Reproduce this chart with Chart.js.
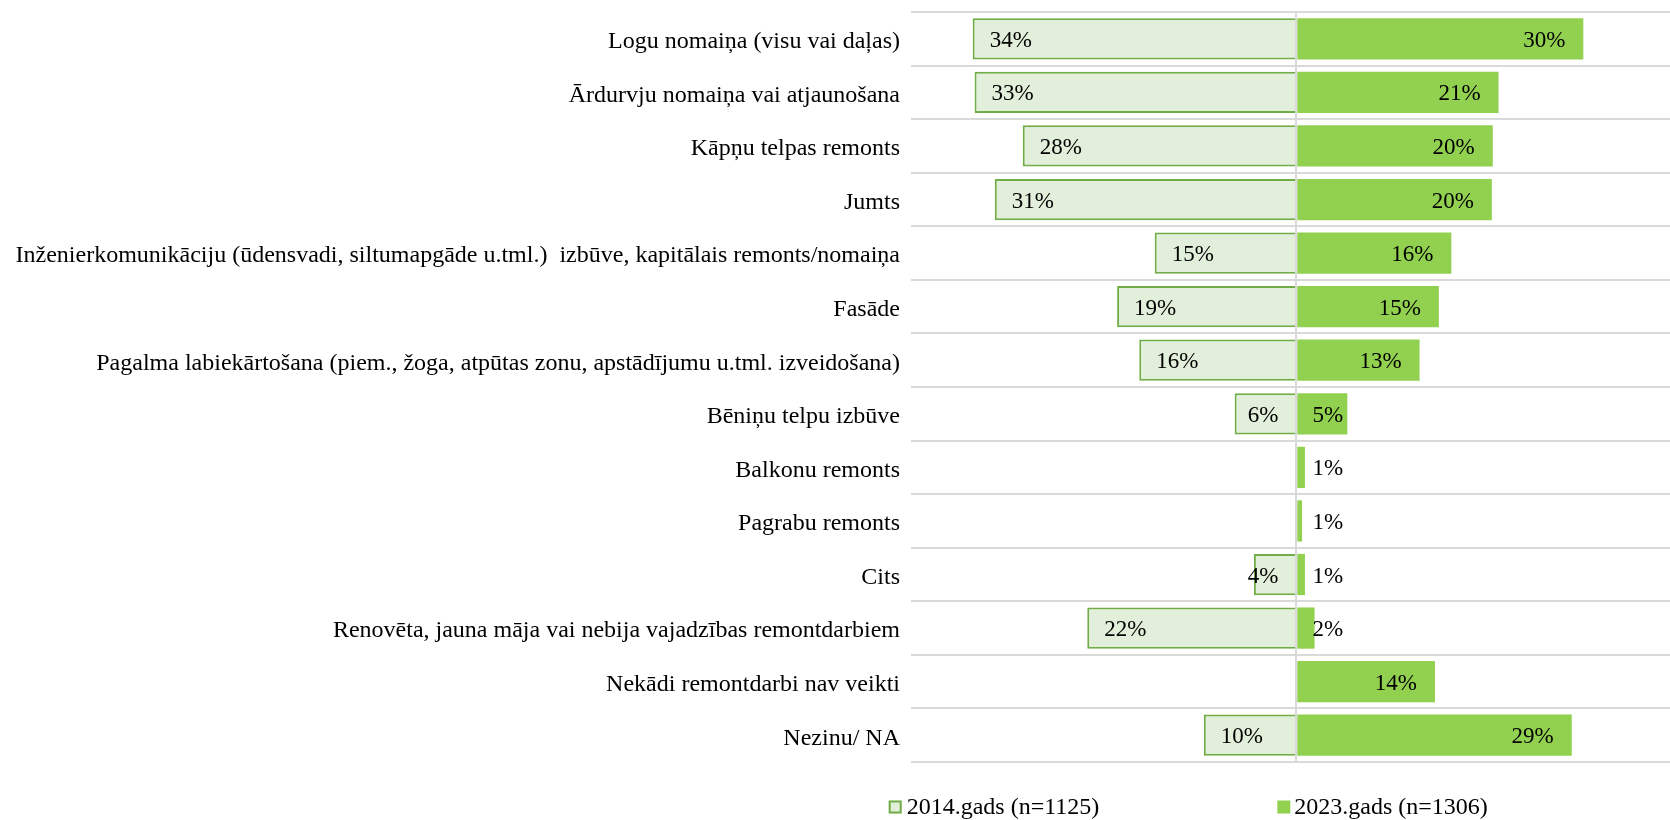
<!DOCTYPE html>
<html>
<head>
<meta charset="utf-8">
<script src="https://cdn.jsdelivr.net/npm/chart.js@4.4.1/dist/chart.umd.min.js"></script>
<style>
  html, body { margin: 0; padding: 0; background: #ffffff; }
  #wrap { width: 1670px; height: 820px; position: relative; }
</style>
</head>
<body>
<div id="wrap"><canvas id="c"></canvas></div>
<script>
const categories = [
  "Logu nomaiņa (visu vai daļas)",
  "Ārdurvju nomaiņa vai atjaunošana",
  "Kāpņu telpas remonts",
  "Jumts",
  "Inženierkomunikāciju (ūdensvadi, siltumapgāde u.tml.)  izbūve, kapitālais remonts/nomaiņa",
  "Fasāde",
  "Pagalma labiekārtošana (piem., žoga, atpūtas zonu, apstādījumu u.tml. izveidošana)",
  "Bēniņu telpu izbūve",
  "Balkonu remonts",
  "Pagrabu remonts",
  "Cits",
  "Renovēta, jauna māja vai nebija vajadzības remontdarbiem",
  "Nekādi remontdarbi nav veikti",
  "Nezinu/ NA"
];
const seriesNames = ["2014.gads (n=1125)", "2023.gads (n=1306)"];
const values2014 = [33.6, 33.4, 28.4, 31.3, 14.7, 18.6, 16.3, 6.4, null, null, 4.4, 21.7, null, 9.6];
const values2023 = [29.8, 21.0, 20.4, 20.3, 16.1, 14.8, 12.8, 5.3, 0.9, 0.6, 0.9, 1.9, 14.4, 28.6];

const FONT = '"Liberation Serif", "Times New Roman", serif';

const labelPlugin = {
  id: 'barLabels',
  afterDraw(chart) {
    const ctx = chart.ctx;
    ctx.save();
    ctx.font = '23px ' + FONT;
    ctx.fillStyle = '#000000';
    ctx.textBaseline = 'middle';
    chart.data.datasets.forEach((ds, di) => {
      const meta = chart.getDatasetMeta(di);
      meta.data.forEach((el, i) => {
        const raw = di === 0 ? values2014[i] : values2023[i];
        if (raw == null) return;
        const txt = Math.round(raw) + '%';
        if (di === 0) {
          ctx.textAlign = 'left';
          const x = Math.min(el.x + 17, el.base - 47.5);
          ctx.fillText(txt, x, el.y + 2);
        } else {
          ctx.textAlign = 'right';
          const x = Math.max(el.x - 18, el.base + 46);
          ctx.fillText(txt, x, el.y + 2);
        }
      });
    });
    ctx.restore();
  }
};

const legendPlugin = {
  id: 'customLegend',
  afterDraw(chart) {
    const ctx = chart.ctx;
    const items = [
      { box: 888.7, text: 906.7 },
      { box: 1277.3, text: 1294.3 }
    ];
    ctx.save();
    ctx.font = '24px ' + FONT;
    ctx.textBaseline = 'middle';
    ctx.textAlign = 'left';
    chart.data.datasets.forEach((ds, di) => {
      const it = items[di];
      const y = 807;
      ctx.fillStyle = ds.backgroundColor;
      ctx.fillRect(it.box, y - 6.5, 13, 13);
      if (ds.borderWidth) {
        ctx.strokeStyle = ds.borderColor;
        ctx.lineWidth = 2;
        ctx.strokeRect(it.box + 1, y - 5.5, 11, 11);
      }
      ctx.fillStyle = '#000000';
      ctx.fillText(ds.label, it.text, y + 1);
    });
    ctx.restore();
  }
};

new Chart(document.getElementById('c'), {
  type: 'bar',
  data: {
    labels: categories,
    datasets: [
      {
        label: seriesNames[0],
        data: values2014.map(v => v == null ? null : -v),
        backgroundColor: '#E2EFDA',
        borderColor: '#70AD47',
        borderWidth: 2,
        borderSkipped: 'start',
        barPercentage: 0.77,
        categoryPercentage: 1.0
      },
      {
        label: seriesNames[1],
        data: values2023,
        backgroundColor: '#92D050',
        borderWidth: 0,
        barPercentage: 0.77,
        categoryPercentage: 1.0
      }
    ]
  },
  options: {
    indexAxis: 'y',
    responsive: true,
    maintainAspectRatio: false,
    animation: false,
    layout: { padding: { top: 12, bottom: 58, left: 0, right: 0 } },
    plugins: {
      legend: { display: false },
      tooltip: { enabled: false }
    },
    scales: {
      x: {
        stacked: true,
        min: -40,
        max: 38.8,
        z: 1,
        ticks: { display: false, stepSize: 10 },
        border: { display: false },
        grid: {
          drawTicks: false,
          lineWidth: 2,
          color: (c) => (c.tick && c.tick.value === 0) ? '#D9D9D9' : 'rgba(0,0,0,0)'
        }
      },
      y: {
        stacked: true,
        afterFit(scale) {
          scale.width = 911;
          scale.paddingTop = 0;
          scale.paddingBottom = 0;
        },
        border: { display: false },
        grid: {
          offset: true,
          drawTicks: false,
          lineWidth: 2,
          color: '#D9D9D9'
        },
        ticks: {
          padding: 11,
          labelOffset: 3,
          color: '#000000',
          font: { family: FONT, size: 24 }
        }
      }
    }
  },
  plugins: [labelPlugin, legendPlugin]
});
</script>
</body>
</html>
